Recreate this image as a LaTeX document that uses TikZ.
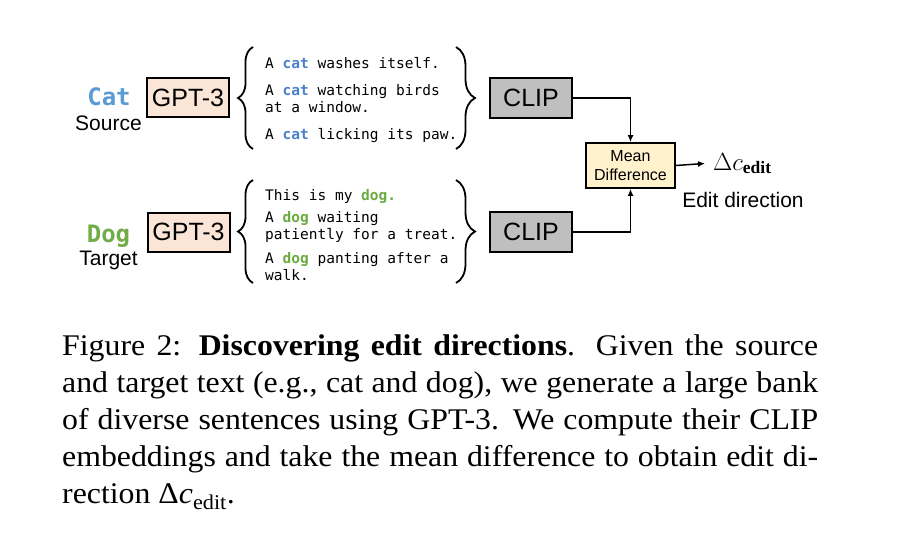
\documentclass[tikz,border=0pt]{standalone}
\usepackage{fontspec}
\setmainfont{Liberation Serif}
\newfontfamily\capf[FakeStretch=1.06]{Liberation Serif}
\newfontfamily\arialf{Liberation Sans}
\newfontfamily\monof{DejaVu Sans Mono}
\usetikzlibrary{decorations.pathreplacing,arrows.meta}
\definecolor{catblue}{RGB}{74,128,204}
\definecolor{cathead}{RGB}{91,155,213}
\definecolor{doggreen}{RGB}{106,170,62}
\definecolor{doghead}{RGB}{112,173,71}
\definecolor{gptfill}{RGB}{251,229,214}
\definecolor{clipfill}{RGB}{191,191,191}
\definecolor{meanfill}{RGB}{255,242,204}
\newcommand{\catw}{\textcolor{catblue}{\bfseries cat}}
\newcommand{\dogw}{\textcolor{doggreen}{\bfseries dog}}
\begin{document}
\begin{tikzpicture}[x=1pt,y=-1pt,
  gptbox/.style={draw, line width=2pt, fill=gptfill, minimum width=82pt, minimum height=39pt, inner sep=0pt, font=\arialf\fontsize{25}{28}\selectfont},
  clipbox/.style={draw, line width=2pt, fill=clipfill, minimum width=82pt, minimum height=40pt, inner sep=0pt, font=\arialf\fontsize{25}{28}\selectfont},
  meanbox/.style={draw, line width=1.8pt, fill=meanfill, minimum width=89pt, minimum height=45pt, inner sep=0pt, align=center, font=\arialf\fontsize{16}{19}\selectfont},
  sent/.style={anchor=base west, inner sep=0pt, font=\monof\fontsize{14.5}{17}\selectfont},
  head/.style={anchor=base, inner sep=0pt, font=\monof\bfseries\fontsize{24}{28}\selectfont},
  lab/.style={anchor=base, inner sep=0pt, font=\arialf\fontsize{21}{24}\selectfont},
  brc/.style={decorate, decoration={brace, amplitude=#1}, line width=1.8pt},
  arr/.style={-{Latex[length=7pt,width=6pt]}, line width=1.5pt}
]
\useasboundingbox (0,0) rectangle (912,533);
\fill[white] (0,0) rectangle (912,533);

% Source side
\node[head, text=cathead] (cat) at (109,105) {Cat};
\node[lab] (src) at (108.5,130) {Source};
\node[gptbox] (gpt1) at (188,97.5) {GPT-3};
\draw[brc=15pt] (253,149) -- (253,47);
\node[sent] (c1) at (265,68) {A \catw{} washes itself.};
\node[sent] (c2a) at (265,95) {A \catw{} watching birds};
\node[sent] (c2b) at (265,112) {at a window.};
\node[sent] (c3) at (265,139) {A \catw{} licking its paw.};
\draw[brc=19pt] (456,47) -- (456,149);
\node[clipbox] (clip1) at (531,98) {CLIP};

% Target side
\node[head, text=doghead] (dog) at (108.5,242) {Dog};
\node[lab] (tgt) at (108.5,265) {Target};
\node[gptbox] (gpt2) at (188.5,232) {GPT-3};
\draw[brc=15pt] (253,283) -- (253,180);
\node[sent] (d1) at (265,200) {This is my \textcolor{doggreen}{\bfseries dog.}};
\node[sent] (d2a) at (265,222) {A \dogw{} waiting};
\node[sent] (d2b) at (265,239) {patiently for a treat.};
\node[sent] (d3a) at (265,263) {A \dogw{} panting after a};
\node[sent] (d3b) at (265,280) {walk.};
\draw[brc=19pt] (456,180) -- (456,283);
\node[clipbox] (clip2) at (531,232) {CLIP};

% Mean difference
\node[meanbox] (mean) at (630.5,165.5) {Mean\\Difference};
\draw[arr] (clip1.east) -| (mean.north);
\draw[arr] (clip2.east) -| (mean.south);
\node[anchor=base west, inner sep=0pt, inner xsep=8pt, font=\fontsize{25}{28}\selectfont] (delta) at (705,170) {$\Delta c_{\mathbf{edit}}$};
\draw[arr] (mean.east) -- (delta.west);
\node[lab] (edir) at (743,207) {Edit direction};

% Caption
\node[anchor=base west, inner sep=0pt] (cap) at (62,355.5) {\parbox[t]{756pt}{\capf\fontsize{30}{37}\selectfont
Figure 2: \textbf{Discovering edit directions}. Given the source\linebreak
and target text (e.g., cat and dog), we generate a large bank\linebreak
of diverse sentences using GPT-3. We compute their CLIP\linebreak
embeddings and take the mean difference to obtain edit di-\linebreak
rection Δ\textit{c}\textsubscript{edit}.}};
\end{tikzpicture}
\end{document}
